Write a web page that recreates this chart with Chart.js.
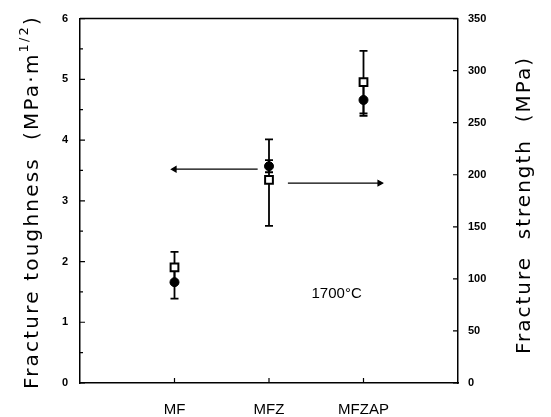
<!DOCTYPE html>
<html>
<head>
<meta charset="utf-8">
<script src="https://cdn.jsdelivr.net/npm/chart.js@4/dist/chart.umd.min.js"></script>
<style>
  html, body { margin: 0; padding: 0; background: #fff; }
</style>
</head>
<body>
<canvas id="myChart" width="551" height="417"></canvas>
<script>
// Data
const categories = ['MF', 'MFZ', 'MFZAP'];
const categoryPos = [1, 2, 3];

// Fracture toughness (filled circles, left axis)
const toughness = [1.66, 3.57, 4.66];
const toughnessLow = [1.39, 3.47, 4.40];
const toughnessHigh = [1.93, 3.67, 4.92];

// Fracture strength (open squares, right axis)
const strength = [111, 195, 289];
const strengthLow = [96, 151, 259];
const strengthHigh = [126, 234, 319];

// Tick labels
const toughnessTicks = [0, 1, 2, 3, 4, 5, 6];
const strengthTicks = [0, 50, 100, 150, 200, 250, 300, 350];

// Arrows pointing to the axis each series belongs to
const toughnessArrowX = [1.0, 1.88];
const toughnessArrowY = 3.52;
const strengthArrowX = [2.2, 3.17];
const strengthArrowY = 192;

const noteText = '1700°C';
const notePos = { x: 2.45, y: 1.47 };

//========================================================

// Error bars, drawn through the scales before the markers
const errorBars = {
    id: 'errorBars',
    beforeDatasetsDraw(chart) {
        const ctx = chart.ctx;
        const xs = chart.scales.x;
        const sets = [
            { scale: chart.scales.y, low: toughnessLow, high: toughnessHigh },
            { scale: chart.scales.y1, low: strengthLow, high: strengthHigh }
        ];
        ctx.save();
        ctx.strokeStyle = '#000';
        ctx.lineWidth = 1.8;
        sets.forEach(s => {
            categoryPos.forEach((c, i) => {
                const px = xs.getPixelForValue(c);
                const top = s.scale.getPixelForValue(s.high[i]);
                const bot = s.scale.getPixelForValue(s.low[i]);
                ctx.beginPath();
                ctx.moveTo(px, top); ctx.lineTo(px, bot);
                ctx.moveTo(px - 4, top); ctx.lineTo(px + 4, top);
                ctx.moveTo(px - 4, bot); ctx.lineTo(px + 4, bot);
                ctx.stroke();
            });
        });
        ctx.restore();
    }
};

// Inward tick marks, top frame line, axis titles and the note
const frameAndText = {
    id: 'frameAndText',
    afterDraw(chart) {
        const ctx = chart.ctx;
        const a = chart.chartArea;
        const xs = chart.scales.x, ys = chart.scales.y, y1 = chart.scales.y1;
        ctx.save();
        ctx.strokeStyle = '#000';
        ctx.lineWidth = 1.5;

        // top line of the frame
        ctx.beginPath();
        ctx.moveTo(a.left, a.top); ctx.lineTo(a.right, a.top);
        ctx.stroke();

        ctx.lineWidth = 1.2;
        ctx.beginPath();
        // left axis: major and half-step minor ticks
        for (let v = 0; v <= 6; v += 0.5) {
            const py = ys.getPixelForValue(v);
            const len = Number.isInteger(v) ? 5 : 3;
            ctx.moveTo(a.left, py); ctx.lineTo(a.left + len, py);
        }
        // right axis
        strengthTicks.forEach(v => {
            const py = y1.getPixelForValue(v);
            ctx.moveTo(a.right, py); ctx.lineTo(a.right - 5, py);
        });
        // bottom axis
        categoryPos.forEach(c => {
            const px = xs.getPixelForValue(c);
            ctx.moveTo(px, a.bottom); ctx.lineTo(px, a.bottom - 5);
        });
        ctx.stroke();

        ctx.fillStyle = '#000';

        // left title with superscript
        const big = '20px "DejaVu Sans"';
        const small = '13px "DejaVu Sans"';
        const part1 = 'Fracture toughness  (MPa\u00B7m';
        const sup = '1/2';
        const part2 = ')';
        ctx.letterSpacing = '2.2px';
        ctx.font = big;
        const w1 = ctx.measureText(part1).width;
        const w3 = ctx.measureText(part2).width;
        ctx.font = small;
        const w2 = ctx.measureText(sup).width;
        const total = w1 + w2 + w3;
        ctx.save();
        ctx.translate(38, 202);
        ctx.rotate(-Math.PI / 2);
        ctx.textBaseline = 'alphabetic';
        ctx.textAlign = 'left';
        let x0 = -total / 2;
        ctx.font = big;
        ctx.fillText(part1, x0, 0);
        ctx.font = small;
        ctx.fillText(sup, x0 + w1, -10);
        ctx.font = big;
        ctx.fillText(part2, x0 + w1 + w2, 0);
        ctx.restore();

        // right title
        ctx.save();
        ctx.translate(530, 205);
        ctx.rotate(-Math.PI / 2);
        ctx.font = big;
        ctx.letterSpacing = '2px';
        ctx.textAlign = 'center';
        ctx.textBaseline = 'alphabetic';
        ctx.fillText('Fracture  strength  (MPa)', 0, 0);
        ctx.restore();

        // temperature note
        ctx.letterSpacing = '0px';
        ctx.font = '15px "Liberation Sans"';
        ctx.textAlign = 'left';
        ctx.textBaseline = 'middle';
        ctx.fillText(noteText, xs.getPixelForValue(notePos.x), ys.getPixelForValue(notePos.y));
        ctx.restore();
    }
};

const ctx = document.getElementById('myChart').getContext('2d');
const myChart = new Chart(ctx, {
    type: 'scatter',
    data: {
        datasets: [
            {
                label: 'Fracture toughness',
                data: categoryPos.map((c, i) => ({ x: c, y: toughness[i] })),
                yAxisID: 'y',
                pointStyle: 'circle',
                pointRadius: 4.5,
                backgroundColor: '#000',
                borderColor: '#000',
                borderWidth: 1
            },
            {
                label: 'Fracture strength',
                data: categoryPos.map((c, i) => ({ x: c, y: strength[i] })),
                yAxisID: 'y1',
                pointStyle: 'rect',
                pointRadius: 5.5,
                backgroundColor: '#fff',
                borderColor: '#000',
                borderWidth: 2
            },
            {
                label: 'toughness arrow',
                data: toughnessArrowX.map(x => ({ x: x, y: toughnessArrowY })),
                yAxisID: 'y',
                showLine: true,
                borderColor: '#000',
                backgroundColor: '#000',
                borderWidth: 1.3,
                pointStyle: 'triangle',
                pointRadius: [3, 0],
                pointRotation: [270, 0]
            },
            {
                label: 'strength arrow',
                data: strengthArrowX.map(x => ({ x: x, y: strengthArrowY })),
                yAxisID: 'y1',
                showLine: true,
                borderColor: '#000',
                backgroundColor: '#000',
                borderWidth: 1.3,
                pointStyle: 'triangle',
                pointRadius: [0, 3],
                pointRotation: [0, 90]
            }
        ]
    },
    options: {
        responsive: false,
        animation: false,
        devicePixelRatio: 1,
        layout: { padding: { top: 15, left: 0, right: 0, bottom: 0 } },
        plugins: {
            legend: { display: false },
            tooltip: { enabled: false }
        },
        scales: {
            x: {
                type: 'linear',
                position: 'bottom',
                min: 0,
                max: 4,
                afterBuildTicks: s => { s.ticks = categoryPos.map(v => ({ value: v })); },
                afterFit: s => { s.height = 34; },
                grid: { display: false, drawTicks: false },
                border: { display: true, color: '#000', width: 1.5 },
                ticks: {
                    color: '#000',
                    padding: 18,
                    font: { family: 'Liberation Sans', size: 15 },
                    callback: v => categories[categoryPos.indexOf(v)]
                }
            },
            y: {
                position: 'left',
                min: 0,
                max: 6,
                afterBuildTicks: s => { s.ticks = toughnessTicks.map(v => ({ value: v })); },
                afterFit: s => { s.width = 80; },
                grid: { display: false, drawTicks: false },
                border: { display: true, color: '#000', width: 1.5 },
                ticks: {
                    color: '#000',
                    padding: 12,
                    font: { family: 'Liberation Sans', size: 11, weight: 'bold' }
                }
            },
            y1: {
                position: 'right',
                min: 0,
                max: 350,
                afterBuildTicks: s => { s.ticks = strengthTicks.map(v => ({ value: v })); },
                afterFit: s => { s.width = 93; },
                grid: { display: false, drawTicks: false },
                border: { display: true, color: '#000', width: 1.5 },
                ticks: {
                    color: '#000',
                    padding: 10,
                    font: { family: 'Liberation Sans', size: 11, weight: 'bold' }
                }
            }
        }
    },
    plugins: [errorBars, frameAndText]
});
</script>
</body>
</html>
